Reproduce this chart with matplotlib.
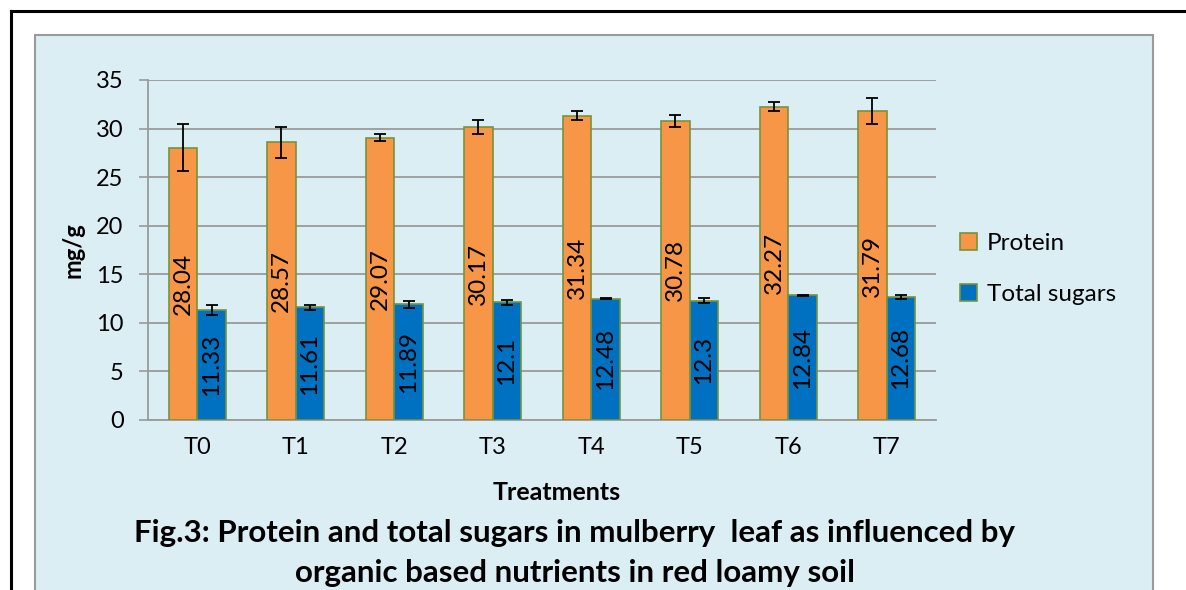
import matplotlib.pyplot as plt
import numpy as np
from matplotlib.patches import Rectangle
from matplotlib.lines import Line2D

plt.rcParams["font.family"] = ["Lato", "DejaVu Sans"]

treatments = ["T0", "T1", "T2", "T3", "T4", "T5", "T6", "T7"]
protein = [28.04, 28.57, 29.07, 30.17, 31.34, 30.78, 32.27, 31.79]
protein_err = [2.4, 1.6, 0.35, 0.7, 0.5, 0.6, 0.45, 1.35]
sugars = [11.33, 11.61, 11.89, 12.1, 12.48, 12.3, 12.84, 12.68]
sugars_err = [0.5, 0.25, 0.35, 0.25, 0.05, 0.22, 0.05, 0.2]

W, H = 1186, 590
fig = plt.figure(figsize=(W / 100, H / 100), dpi=100)

# outer black frame (left + top) and light blue panel
fig.add_artist(Line2D([10.5 / W, 10.5 / W], [0, 1 - 10.5 / H], color="black", lw=2.2,
                      transform=fig.transFigure))
fig.add_artist(Line2D([10.5 / W, 1], [1 - 10.5 / H, 1 - 10.5 / H], color="black", lw=2.2,
                      transform=fig.transFigure))
fig.add_artist(Rectangle((35 / W, -0.05), (1153 - 35) / W, 1.05 - 35 / H,
                         transform=fig.transFigure, facecolor="#DBEEF4",
                         edgecolor="#9A9A9A", lw=1.5, zorder=0))

ax = fig.add_axes([148 / W, 1 - 420 / H, 788 / W, 340 / H])
ax.patch.set_visible(False)

x = np.arange(len(treatments))
w = 0.29
edge = "#77933C"
b1 = ax.bar(x - w / 2, protein, w, color="#F79646", edgecolor=edge, lw=1.2, zorder=3,
            label="Protein")
b2 = ax.bar(x + w / 2, sugars, w, color="#0070C0", edgecolor=edge, lw=1.2, zorder=3,
            label="Total sugars")
ax.errorbar(x - w / 2, protein, yerr=protein_err, fmt="none", ecolor="black",
            elinewidth=1.3, capsize=4.3, capthick=1.3, zorder=4)
ax.errorbar(x + w / 2, sugars, yerr=sugars_err, fmt="none", ecolor="black",
            elinewidth=1.3, capsize=4.3, capthick=1.3, zorder=4)

for xi, v in zip(x - w / 2, protein):
    ax.text(xi, v / 2, f"{v:g}", rotation=90, ha="center", va="center", fontsize=17.5,
            zorder=5)
for xi, v in zip(x + w / 2, sugars):
    ax.text(xi, v / 2, f"{v:g}", rotation=90, ha="center", va="center", fontsize=17.5,
            zorder=5)

ax.set_xlim(-0.5, 7.5)
ax.set_ylim(0, 35)
ax.set_yticks(range(0, 36, 5))
ax.set_xticks(x)
ax.set_xticklabels(treatments, fontsize=17)
ax.tick_params(axis="y", labelsize=17, length=6.5, color="#9A9A9A", width=1.2, pad=11)
ax.tick_params(axis="x", length=0, pad=12)
ax.grid(axis="y", color="#9A9A9A", lw=1.3, zorder=1)
ax.set_axisbelow(True)
for s in ["top", "right"]:
    ax.spines[s].set_visible(False)
ax.spines["left"].set_color("#9A9A9A")
ax.spines["bottom"].set_color("#9A9A9A")
ax.spines["left"].set_linewidth(1.3)
ax.spines["bottom"].set_linewidth(1.3)

ax.set_ylabel("mg/g", fontsize=17, fontweight="bold", labelpad=8)
fig.text(557 / W, 1 - 492 / H, "Treatments", fontsize=18, fontweight="bold",
         ha="center", va="center")
fig.text(575 / W, 1 - 553 / H,
         "Fig.3: Protein and total sugars in mulberry  leaf as influenced by\n"
         "organic based nutrients in red loamy soil",
         fontsize=22.5, fontweight="bold", ha="center", va="center", linespacing=1.5)

fig.legend(handles=[b1, b2], loc="center left", bbox_to_anchor=(938 / W, 1 - 269 / H),
           frameon=False, fontsize=17.5, handlelength=0.7, handleheight=0.7,
           handletextpad=0.4, labelspacing=1.2)

plt.savefig("out.png", dpi=100)
plt.close()
